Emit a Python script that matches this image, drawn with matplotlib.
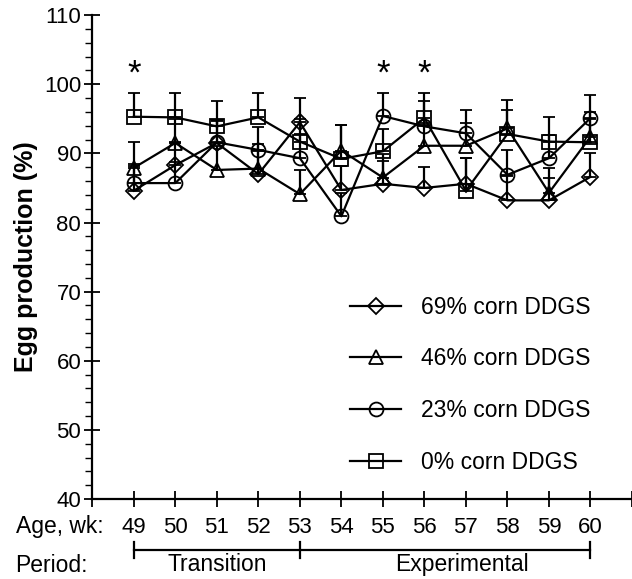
import numpy as np
import matplotlib.pyplot as plt
from matplotlib.ticker import MultipleLocator
from matplotlib.lines import Line2D

weeks = [49, 50, 51, 52, 53, 54, 55, 56, 57, 58, 59, 60]

# egg production (%) per diet
ddgs69 = [84.6, 88.3, 91.5, 87.0, 94.5, 84.7, 85.6, 85.0, 85.6, 83.2, 83.2, 86.6]
ddgs46 = [87.9, 91.5, 87.6, 87.8, 84.1, 90.4, 86.5, 91.1, 91.1, 93.6, 84.3, 92.4]
ddgs23 = [85.7, 85.7, 91.6, 90.5, 89.3, 80.9, 95.4, 93.9, 92.9, 86.9, 89.3, 95.1]
ddgs0 = [95.3, 95.2, 93.9, 95.2, 91.7, 89.2, 90.3, 95.1, 84.6, 92.8, 91.7, 91.6]

# upper SE bars
err69 = [3.5, 3.4, 3.2, 3.3, 3.5, 3.4, 3.3, 3.0, 3.7, 3.5, 3.3, 3.4]
err46 = [3.7, 3.5, 3.4, 3.5, 3.5, 3.7, 3.4, 3.3, 3.3, 4.1, 3.6, 3.6]
err23 = [2.8, 3.0, 3.2, 3.3, 3.5, 3.4, 3.3, 3.6, 3.4, 3.6, 3.4, 3.3]
err0 = [3.4, 3.5, 3.6, 3.5, 3.3, 4.9, 3.2, 3.6, 4.7, 3.5, 3.6, 3.4]

labels = ['69% corn DDGS', '46% corn DDGS', '23% corn DDGS', '0% corn DDGS']
markers = ['D', '^', 'o', 's']
sig_weeks = [49, 55, 56]

plt.rcParams['font.family'] = ['Liberation Sans', 'DejaVu Sans']

fig = plt.figure(figsize=(6.32, 5.79), dpi=100)
ax = fig.add_axes([0.146, 0.138, 0.854, 0.836])

series = [ddgs69, ddgs46, ddgs23, ddgs0]
errs = [err69, err46, err23, err0]
handles = []
for vals, e, m, lab in zip(series, errs, markers, labels):
    ms = 8 if m == 'D' else 10
    ax.errorbar(weeks, vals, yerr=[np.zeros(len(e)), e], color='black', lw=1.6,
                marker=m, ms=ms, mfc='none', mec='black', mew=1.3,
                capsize=4.5, capthick=1.6, elinewidth=1.6)
    handles.append(Line2D([], [], color='black', lw=1.6, marker=m, ms=ms,
                          mfc='none', mec='black', mew=1.3))

for w in sig_weeks:
    ax.text(w, 101.5, '*', ha='center', va='center', fontsize=25)

ax.set_xlim(48, 61)
ax.set_ylim(40, 110)
ax.set_xticks(range(48, 62))
ax.set_xticklabels([''] + [str(w) for w in weeks] + [''])
ax.yaxis.set_major_locator(MultipleLocator(10))
ax.yaxis.set_minor_locator(MultipleLocator(2))
ax.tick_params(axis='both', which='major', direction='inout', length=12, width=1.3,
               labelsize=16)
ax.tick_params(axis='y', which='major', pad=2)
ax.tick_params(axis='y', which='minor', direction='out', length=5, width=1)
ax.tick_params(axis='x', pad=7)
for s in ['top', 'right']:
    ax.spines[s].set_visible(False)
for s in ['left', 'bottom']:
    ax.spines[s].set_linewidth(1.6)

ax.set_ylabel('Egg production (%)', fontsize=18, fontweight='bold', labelpad=4)

tr = ax.get_xaxis_transform()
fig.text(0.025, 1 - 526 / 579, 'Age, wk:', ha='left', va='center', fontsize=16.5)
fig.text(0.024, 1 - 565 / 579, 'Period:', ha='left', va='center', fontsize=16.5)
ax.plot([49, 60], [-0.105, -0.105], transform=tr, color='black', lw=1.6, clip_on=False)
for x in [49, 53, 60]:
    ax.plot([x, x], [-0.089, -0.122], transform=tr, color='black', lw=1.6, clip_on=False)
ax.text(51, -0.136, 'Transition', transform=tr, ha='center', va='center', fontsize=16.5)
ax.text(56.9, -0.136, 'Experimental', transform=tr, ha='center', va='center', fontsize=16.5)

ax.legend(handles, labels, loc='upper left', bbox_to_anchor=(0.44, 0.463), frameon=False,
          fontsize=16.5, handlelength=2.2, handletextpad=0.9, labelspacing=1.25)

fig.savefig('out.png', dpi=100)
